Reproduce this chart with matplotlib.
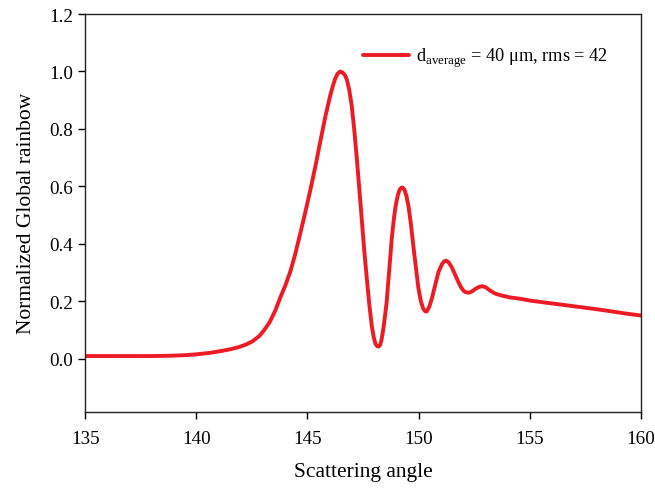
import numpy as np
import matplotlib
matplotlib.use('Agg')
import matplotlib.pyplot as plt

plt.rcParams['font.family'] = ['Liberation Serif', 'DejaVu Serif']
plt.rcParams['mathtext.fontset'] = 'custom'
plt.rcParams['mathtext.rm'] = 'Liberation Serif'

# scattering angle (deg) and normalized global rainbow intensity
angle = [135.0, 136.0, 137.0, 138.0, 138.8, 139.5, 140.0, 140.6, 141.0, 141.5,
         141.9, 142.2, 142.5, 142.84, 143.05, 143.3, 143.55, 143.77, 144.0, 144.22,
         144.45, 144.67, 144.9, 145.12, 145.35, 145.57, 145.8, 146.02, 146.15, 146.24,
         146.35, 146.47, 146.58, 146.68, 146.77, 146.88, 146.99, 147.1, 147.22, 147.33,
         147.44, 147.55, 147.67, 147.78, 147.89, 147.98, 148.06, 148.14, 148.2, 148.26,
         148.33, 148.41, 148.48, 148.56, 148.63, 148.71, 148.78, 148.86, 148.94, 149.02,
         149.09, 149.15, 149.21, 149.28, 149.35, 149.44, 149.54, 149.65, 149.76, 149.88,
         149.99, 150.1, 150.21, 150.29, 150.36, 150.47, 150.59, 150.74, 150.89, 151.05,
         151.14, 151.23, 151.35, 151.49, 151.64, 151.79, 151.9, 152.01, 152.12, 152.24,
         152.38, 152.54, 152.7, 152.84, 153.0, 153.21, 153.42, 153.66, 154.1, 154.6,
         155.0, 155.6, 156.2, 156.8, 157.3, 157.9, 158.45, 159.3, 160.0]
intensity = [0.010, 0.010, 0.010, 0.010, 0.011, 0.013, 0.016, 0.021, 0.026, 0.033,
             0.041, 0.049, 0.060, 0.080, 0.100, 0.128, 0.168, 0.212, 0.255, 0.302,
             0.365, 0.435, 0.510, 0.585, 0.668, 0.754, 0.842, 0.916, 0.952, 0.974,
             0.992, 1.000, 0.996, 0.988, 0.972, 0.935, 0.880, 0.800, 0.696, 0.592,
             0.487, 0.380, 0.278, 0.190, 0.116, 0.075, 0.052, 0.044, 0.043, 0.047,
             0.066, 0.104, 0.145, 0.197, 0.265, 0.340, 0.410, 0.470, 0.520, 0.555,
             0.577, 0.589, 0.595, 0.596, 0.590, 0.570, 0.533, 0.470, 0.394, 0.315,
             0.246, 0.200, 0.174, 0.166, 0.165, 0.180, 0.209, 0.256, 0.302, 0.330,
             0.339, 0.342, 0.336, 0.319, 0.293, 0.267, 0.250, 0.238, 0.232, 0.230,
             0.234, 0.243, 0.250, 0.253, 0.250, 0.238, 0.228, 0.222, 0.214, 0.209,
             0.203, 0.197, 0.191, 0.185, 0.180, 0.174, 0.168, 0.158, 0.151]

legend_label = r'd$_{\mathrm{average}}$ = 40 μm, rms = 42'

fig = plt.figure(figsize=(6.55, 4.89), dpi=100)
ax = fig.add_axes([0.130, 0.1564, 0.8486, 0.8129])

ax.plot(angle, intensity, color='#ED1C24', linewidth=2.8, label=legend_label,
        solid_joinstyle='round', solid_capstyle='round')

ax.set_xlim(135, 160)
ax.set_ylim(-0.183, 1.2)
ax.set_xticks(np.arange(135, 161, 5))
ax.set_yticks(np.arange(0, 1.21, 0.2))
ax.set_yticklabels(['%.1f' % v for v in np.arange(0, 1.21, 0.2)])
ax.tick_params(direction='out', length=5, width=1, labelsize=13.7, top=False, right=False)
ax.tick_params(axis='x', pad=8)
for sp in ax.spines.values():
    sp.set_linewidth(1)
    sp.set_color('#222222')

ax.set_xlabel('Scattering angle', fontsize=15.5, labelpad=11)
ax.set_ylabel('Normalized Global rainbow', fontsize=15.5, labelpad=10)

ax.legend(loc='upper left', bbox_to_anchor=(0.5, 0.92), frameon=False, fontsize=13.2,
          handlelength=2.5, borderaxespad=0, borderpad=0, handletextpad=0.4)

plt.savefig('out.png', dpi=100)
